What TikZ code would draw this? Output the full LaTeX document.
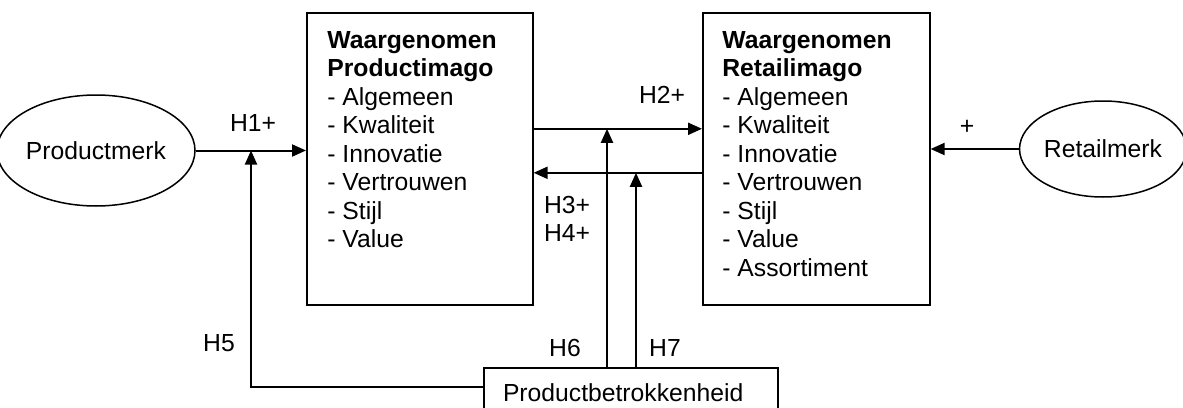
\documentclass[tikz,border=0pt]{standalone}
\usepackage{fontspec}
\setmainfont{Liberation Sans}
\usetikzlibrary{arrows.meta,shapes.geometric}
\newcommand{\diagfont}{\fontsize{12.35pt}{14.25pt}\selectfont}
\begin{document}
\begin{tikzpicture}[x=0.5pt,y=-0.5pt,
    every node/.style={font=\diagfont, inner sep=0pt},
    merk/.style={ellipse, draw, line width=0.75pt, minimum width=#1},
    imago/.style={rectangle, draw, line width=0.8pt, anchor=north west,
        minimum width=113pt, minimum height=146pt},
    lijst/.style={anchor=north west, align=left},
    arr/.style={line width=1pt, -{Triangle[length=7pt,width=6pt]}}]
    \useasboundingbox (0,0) rectangle (1183,407);

    % constructs
    \node[merk=89pt, minimum height=55.5pt] (prodmerk) at (96,150.5) {Productmerk};
    \node[merk=80pt, minimum height=48pt] (retailmerk) at (1103,149) {Retailmerk};
    \node[imago] (prodimago) at (306,12) {};
    \node[imago, minimum width=113.5pt] (retailimago) at (702,12) {};
    \node[lijst] (prodtekst) at ([shift={(10.5pt,-9.5pt)}]prodimago.north west)
        {\textbf{Waargenomen}\\\textbf{Productimago}\\- Algemeen\\- Kwaliteit\\- Innovatie\\- Vertrouwen\\- Stijl\\- Value};
    \node[lijst] (retailtekst) at ([shift={(10pt,-9.5pt)}]retailimago.north west)
        {\textbf{Waargenomen}\\\textbf{Retailimago}\\- Algemeen\\- Kwaliteit\\- Innovatie\\- Vertrouwen\\- Stijl\\- Value\\- Assortiment};
    \node[rectangle, draw, line width=0.8pt, inner xsep=9.5pt, text width=128pt,
        align=left, minimum height=24.5pt] (betrokken) at (631,392.5) {Productbetrokkenheid};

    % hypothesen
    \draw[arr] (prodmerk.east) -- (prodmerk.east -| prodimago.west);
    \coordinate (h5eind) at (251,150.5);
    \draw[arr] ([yshift=2.75pt]betrokken.west) -| (h5eind);
    \draw[arr] ([yshift=15pt]prodimago.east) coordinate (h2start) -- (h2start -| retailimago.west);
    \draw[arr] ([yshift=-7pt]prodimago.east -| retailimago.west) coordinate (h34start) -- (h34start -| prodimago.east);
    \draw[arr] ([xshift=-12pt]betrokken.north) -- ([xshift=-12pt]betrokken.north |- h2start);
    \draw[arr] ([xshift=2.5pt]betrokken.north) -- ([xshift=2.5pt]betrokken.north |- h34start);
    \draw[arr] (retailmerk.west) -- (retailmerk.west -| retailimago.east);

    % labels
    \node (lh1) at (253,123) {H1+};
    \node (lh2) at (662,95) {H2+};
    \node[align=left] (lh34) at (567,219) {H3+\\H4+};
    \node (lh5) at (219,343) {H5};
    \node (lh6) at (565,348) {H6};
    \node (lh7) at (665,348) {H7};
    \node (lplus) at (967,127) {+};
\end{tikzpicture}
\end{document}
